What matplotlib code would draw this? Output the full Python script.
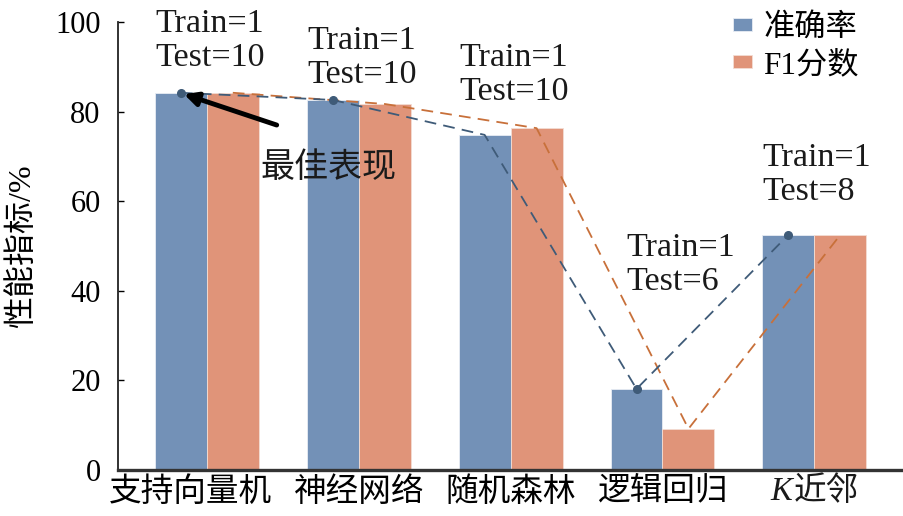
import numpy as np
import matplotlib
matplotlib.use('Agg')
import matplotlib.pyplot as plt
import matplotlib.transforms as mtrans
from matplotlib.offsetbox import TextArea, HPacker, AnnotationBbox

plt.rcParams['font.family'] = ['Liberation Serif', 'Noto Sans CJK SC']

# 数据
models = ['支持向量机', '神经网络', '随机森林', '逻辑回归', 'K近邻']
accuracy = [84.2, 82.6, 74.8, 18.1, 52.5]
f1_score = [84.2, 81.7, 76.3, 9.2, 52.5]
split_labels = ['Train=1\nTest=10', 'Train=1\nTest=10', 'Train=1\nTest=10',
                'Train=1\nTest=6', 'Train=1\nTest=8']
label_top = [103.0, 99.3, 95.5, 53.1, 73.0]
label_dx = [-0.34, -0.34, -0.34, -0.24, -0.34]
dot_idx = [0, 1, 3, 4]

c_acc = '#7391b7'
c_f1 = '#e09479'
c_acc_line = '#3f5b78'
c_f1_line = '#c8703a'

x = np.arange(len(models))
w = 0.342
fs_tick = 23.5

fig = plt.figure(figsize=(9.04, 5.16), dpi=100)
ax = fig.add_axes([0.1305, 0.0891, 0.8695, 0.8683])

ax.bar(x - w / 2, accuracy, w, color=c_acc, edgecolor='#e8edf4', linewidth=0.6, label='准确率', zorder=2)
ax.bar(x + w / 2, f1_score, w, color=c_f1, edgecolor='#f3ddd3', linewidth=0.6, label='F1分数', zorder=2)

ax.plot(x - w / 2, accuracy, color=c_acc_line, lw=1.3, dashes=(6.5, 4),
        marker='o', markersize=5.5, markevery=dot_idx, zorder=4)
ax.plot(x + w / 2, f1_score, color=c_f1_line, lw=1.3, dashes=(6.5, 4), zorder=3)

for xi, dx, top, s in zip(x, label_dx, label_top, split_labels):
    ax.text(xi + dx, top, s, ha='left', va='top', fontsize=24.5,
            linespacing=1.15, color='#1a1a1a', clip_on=False, zorder=5)

# 最佳表现 箭头
ax.annotate('', xy=(x[0] - w / 2 + 0.02, accuracy[0] - 0.3), xytext=(0.46, 77.0),
            arrowprops=dict(arrowstyle='-|>', lw=3.5, color='black', mutation_scale=20,
                            shrinkA=0, shrinkB=0), zorder=6)
ax.text(0.80, 67.6, '最佳表现', ha='center', va='center', fontsize=24.5,
        family=['Noto Sans CJK SC'], color='#1a1a1a', zorder=6)

ax.set_xlim(-0.585, 4.59)
ax.set_ylim(0, 100)
ax.set_xticks(x)
ax.set_xticklabels(models[:-1] + [''], fontsize=fs_tick)
ax.set_yticks(np.arange(0, 101, 20))
ax.tick_params(axis='y', direction='in', length=4, width=1, pad=12.5, labelsize=22)
ax.tick_params(axis='x', direction='in', length=4, width=1, pad=5, labelsize=fs_tick)
ax.set_ylabel('性能指标/%', fontsize=23, labelpad=13)

# 第一个标签略向左
lab0 = ax.get_xticklabels()[0]
lab0.set_transform(lab0.get_transform() + mtrans.ScaledTranslation(-16 / 100, 0, fig.dpi_scale_trans))

# K近邻 (K 斜体)
k_box = HPacker(children=[
    TextArea(models[-1][0], textprops=dict(fontsize=fs_tick, style='italic', family='Liberation Serif', color='#1a1a1a')),
    TextArea(models[-1][1:], textprops=dict(fontsize=fs_tick, family='Noto Sans CJK SC', color='#1a1a1a'))],
    pad=0, sep=1, align='baseline')
ab = AnnotationBbox(k_box, (x[-1], 0), xycoords=('data', 'axes fraction'), xybox=(0, -3.6),
                    boxcoords='offset points', box_alignment=(0.5, 1), frameon=False,
                    annotation_clip=False)
ax.add_artist(ab)

for s in ['top', 'right']:
    ax.spines[s].set_visible(False)
ax.spines['left'].set_linewidth(1.3)
ax.spines['bottom'].set_linewidth(2.4)
ax.spines['left'].set_color('#222222')
ax.spines['bottom'].set_color('#333333')

ax.legend(loc='upper left', bbox_to_anchor=(0.782, 1.018), frameon=False,
          fontsize=22.5, handlelength=0.63, handleheight=0.25, handletextpad=0.35,
          labelspacing=0.26, borderpad=0, borderaxespad=0)

plt.savefig('out.png', dpi=100)
